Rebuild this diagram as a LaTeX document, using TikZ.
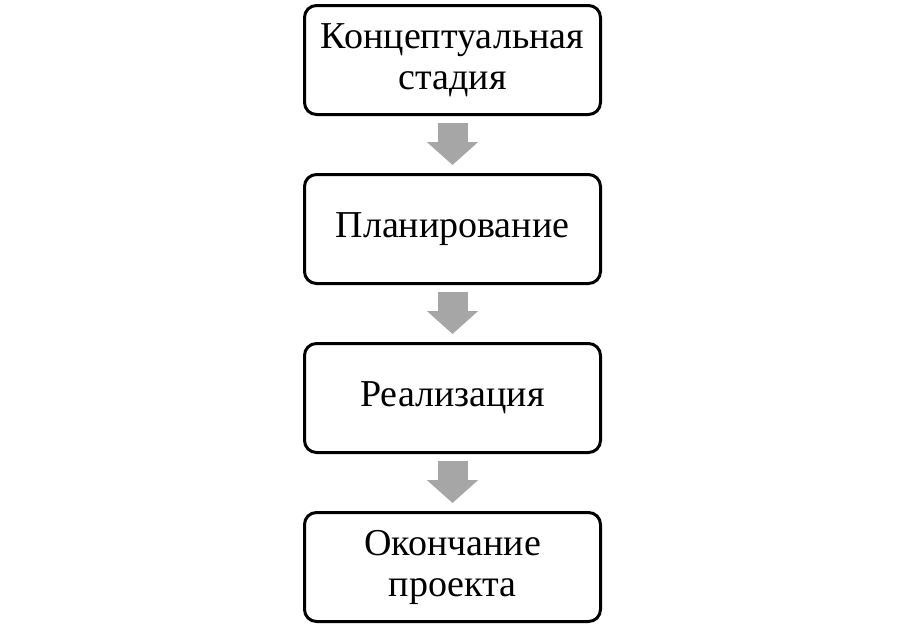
\documentclass[tikz,border=0pt]{standalone}
\usepackage{fontspec}
\setmainfont{Liberation Serif}
\usepackage{tikz}
\usetikzlibrary{positioning,arrows.meta}

\begin{document}
\begin{tikzpicture}[
                    stage/.style={draw,rounded corners=12pt,line width=3pt,
                        minimum width=296pt,minimum height=109pt,align=center,
                        font=\fontsize{38}{41}\selectfont},
                    blockarrow/.style={draw=black!35,line width=30pt,
                        -{Triangle[width=50pt,length=23pt]},
                        shorten <=7pt,shorten >=8pt},
                    node distance=57pt
                ]
                \useasboundingbox (0,0) rectangle (904pt,-627pt);
                \node[stage] (concept) at (452.5pt,-60pt) {Концептуальная\\стадия};
                \node[stage,below=of concept] (plan) {Планирование};
                \node[stage,below=of plan] (impl) {Реализация};
                \node[stage,below=of impl] (close) {Окончание\\проекта};
                \foreach \a/\b in {concept/plan,plan/impl,impl/close}
                    \draw[blockarrow] (\a) -- (\b);
            \end{tikzpicture}
\end{document}
